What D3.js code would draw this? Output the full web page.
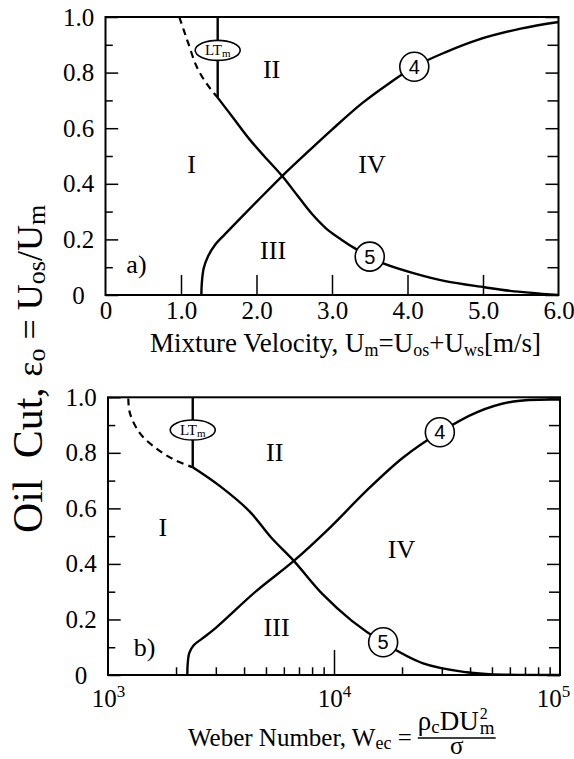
<!DOCTYPE html>
<html>
<head>
<meta charset="utf-8">
<script src="https://cdn.jsdelivr.net/npm/d3@7"></script>
<style>
  body { margin: 0; background: #fff; }
  text { font-family: "Liberation Serif", "Times New Roman", serif; fill: #000; }
</style>
</head>
<body>
<script>
// ---- panel a) : oil cut vs mixture velocity ----
var velTicks = [0, 1, 2, 3, 4, 5, 6];
var velTickLabels = ["0", "1.0", "2.0", "3.0", "4.0", "5.0", "6.0"];
var cutTicks = [0, 0.2, 0.4, 0.6, 0.8, 1.0];
var cutTickLabels = ["0", "0.2", "0.4", "0.6", "0.8", "1.0"];
var cutMinor = [0.1, 0.3, 0.5, 0.7, 0.9];

var velCurve4 = [[1.27, 0], [1.275, 0.04], [1.30, 0.095], [1.36, 0.14], [1.45, 0.18], [1.58, 0.218],
                 [1.75, 0.266], [2.00, 0.335], [2.34, 0.428], [2.70, 0.52], [3.00, 0.595], [3.40, 0.69],
                 [3.75, 0.76], [4.09, 0.821], [4.50, 0.873], [4.92, 0.917], [5.50, 0.958], [6.00, 0.982]];
var velCurve5 = [[1.486, 0.71], [1.70, 0.634], [1.914, 0.558], [2.10, 0.50], [2.34, 0.428], [2.55, 0.355],
                 [2.73, 0.293], [2.92, 0.24], [3.12, 0.20], [3.32, 0.165], [3.50, 0.138], [3.68, 0.114],
                 [4.09, 0.078], [4.50, 0.05], [5.02, 0.028], [5.36, 0.015], [6.00, 0.0]];
var velDashed = [[0.977, 1.0], [1.04, 0.95], [1.097, 0.905], [1.21, 0.82], [1.34, 0.76], [1.486, 0.71]];
var velLTm = [[1.486, 1.0], [1.486, 0.71]];
var velRegions = [["I", 1.14, 0.472], ["II", 2.2, 0.814], ["III", 2.22, 0.161], ["IV", 3.53, 0.472], ["a)", 0.41, 0.113]];
var velMarks = [["4", 4.09, 0.821], ["5", 3.5, 0.138]];
var velLTmLabel = [1.486, 0.88];

// ---- panel b) : oil cut vs Weber number ----
var weberTicks = [1e3, 1e4, 1e5];
var weberExponents = ["3", "4", "5"];
var weberMinor = [2e3, 3e3, 4e3, 5e3, 6e3, 7e3, 8e3, 9e3, 2e4, 3e4, 4e4, 5e4, 6e4, 7e4, 8e4, 9e4];

var weberCurve4 = [[2244, 0], [2250, 0.035], [2290, 0.08], [2400, 0.108], [2600, 0.13], [3000, 0.17],
                   [4540, 0.303], [6640, 0.411], [9600, 0.531], [13900, 0.663], [20300, 0.784],
                   [29400, 0.874], [42800, 0.946], [62200, 0.985], [100000, 0.992]];
var weberCurve5 = [[2371, 0.748], [3130, 0.68], [4220, 0.59], [5270, 0.495], [6640, 0.411], [8900, 0.291],
                   [12000, 0.195], [16500, 0.117], [24800, 0.042], [38600, 0.01], [49000, 0.003], [100000, 0]];
var weberDashed = [[1230, 0.996], [1251, 0.942], [1386, 0.87], [1641, 0.815], [1945, 0.777], [2371, 0.748]];
var weberLTm = [[2371, 1.0], [2371, 0.748]];
var weberRegions = [["I", 1750, 0.532], ["II", 5470, 0.802], ["III", 5570, 0.172], ["IV", 19900, 0.454], ["b)", 1452, 0.10]];
var weberMarks = [["4", 29400, 0.874], ["5", 16500, 0.118]];
var weberLTmLabel = [2371, 0.882];

var width = 574;
var height = 759;

var svg = d3.select("body").append("svg")
            .attr("width", width)
            .attr("height", height);

// draws frame, inward ticks, curves and annotations for one panel
function drawPanel(x, y, cfg) {
  var g = svg.append("g");
  var left = x.range()[0], right = x.range()[1];
  var top = y.range()[1], bottom = y.range()[0];

  // left ticks + labels
  var yl = g.append("g").attr("transform", "translate(" + left + ",0)")
    .call(d3.axisLeft(y).tickValues(cutTicks).tickSize(-12.7).tickPadding(0)
      .tickFormat(function(d, i) { return cutTickLabels[i]; }));
  yl.select(".domain").remove();
  yl.selectAll("text").attr("x", -27).attr("text-anchor", "middle")
    .style("font-family", "Liberation Serif").style("font-size", "25px");
  g.append("g").attr("transform", "translate(" + left + ",0)")
    .call(d3.axisLeft(y).tickValues(cutMinor).tickSize(-7.3).tickFormat(""))
    .select(".domain").remove();

  // right ticks
  g.append("g").attr("transform", "translate(" + right + ",0)")
    .call(d3.axisRight(y).tickValues(cutTicks).tickSize(-13).tickFormat(""))
    .select(".domain").remove();
  g.append("g").attr("transform", "translate(" + right + ",0)")
    .call(d3.axisRight(y).tickValues(cutMinor).tickSize(-11).tickFormat(""))
    .select(".domain").remove();

  cfg.bottomAxis(g, bottom);

  g.selectAll(".tick line").attr("stroke", "#000").attr("stroke-width", 1.5);

  // frame
  g.append("rect")
    .attr("x", left).attr("y", top)
    .attr("width", right - left).attr("height", bottom - top)
    .attr("fill", "none").attr("stroke", "#000").attr("stroke-width", 2);

  var line = d3.line()
    .x(function(d) { return x(d[0]); })
    .y(function(d) { return y(d[1]); })
    .curve(d3.curveCatmullRom.alpha(0.5));

  [cfg.curve4, cfg.curve5, cfg.ltm].forEach(function(c) {
    g.append("path").attr("d", line(c))
      .attr("fill", "none").attr("stroke", "#000").attr("stroke-width", 2.4);
  });
  g.append("path").attr("d", line(cfg.dashed))
    .attr("fill", "none").attr("stroke", "#000").attr("stroke-width", 2.2)
    .attr("stroke-dasharray", "7,5");

  // region names
  g.selectAll("text.region")
    .data(cfg.regions)
    .enter()
    .append("text")
    .attr("class", "region")
    .attr("x", function(d) { return x(d[1]); })
    .attr("y", function(d) { return y(d[2]); })
    .attr("dy", "0.35em")
    .attr("text-anchor", "middle")
    .style("font-size", "26px")
    .text(function(d) { return d[0]; });

  // numbered circles on the curves
  var m = g.selectAll("g.mark").data(cfg.marks).enter().append("g")
    .attr("transform", function(d) { return "translate(" + x(d[1]) + "," + y(d[2]) + ")"; });
  m.append("circle").attr("r", 14.5)
    .attr("fill", "#fff").attr("stroke", "#000").attr("stroke-width", 1.6);
  m.append("text").attr("text-anchor", "middle").attr("dy", "0.36em")
    .style("font-family", "Liberation Sans").style("font-size", "20px")
    .text(function(d) { return d[0]; });

  // LTm tag
  var t = g.append("g")
    .attr("transform", "translate(" + x(cfg.ltmLabel[0]) + "," + y(cfg.ltmLabel[1]) + ")");
  t.append("ellipse").attr("rx", 22.5).attr("ry", 10)
    .attr("fill", "#fff").attr("stroke", "#000").attr("stroke-width", 1.6);
  var tt = t.append("text").attr("text-anchor", "middle").attr("dy", "0.33em").style("font-size", "15px");
  tt.append("tspan").text("LT");
  tt.append("tspan").attr("dy", 2).style("font-size", "11px").text("m");
}

// panel a)
var xVel = d3.scaleLinear().domain([0, 6]).range([105.5, 558.5]);
var yVel = d3.scaleLinear().domain([0, 1]).range([295, 17]);

drawPanel(xVel, yVel, {
  curve4: velCurve4, curve5: velCurve5, dashed: velDashed, ltm: velLTm,
  regions: velRegions, marks: velMarks, ltmLabel: velLTmLabel,
  bottomAxis: function(g, bottom) {
    var a = g.append("g").attr("transform", "translate(0," + bottom + ")")
      .call(d3.axisBottom(xVel).tickValues(velTicks).tickSize(0).tickPadding(6)
        .tickFormat(function(d, i) { return velTickLabels[i]; }));
    a.select(".domain").remove();
    a.selectAll("text").style("font-family", "Liberation Serif").style("font-size", "25px");
    g.append("g").attr("transform", "translate(0," + bottom + ")")
      .call(d3.axisBottom(xVel).tickValues(velTicks.slice(1, 6)).tickSize(-20).tickFormat(""))
      .select(".domain").remove();
  }
});

// panel b)
var xWe = d3.scaleLog().domain([1e3, 1e5]).range([108, 560]);
var yWe = d3.scaleLinear().domain([0, 1]).range([675, 397.3]);

drawPanel(xWe, yWe, {
  curve4: weberCurve4, curve5: weberCurve5, dashed: weberDashed, ltm: weberLTm,
  regions: weberRegions, marks: weberMarks, ltmLabel: weberLTmLabel,
  bottomAxis: function(g, bottom) {
    var a = g.append("g").attr("transform", "translate(0," + bottom + ")")
      .call(d3.axisBottom(xWe).tickValues(weberTicks).tickSize(0).tickPadding(8).tickFormat(""));
    a.select(".domain").remove();
    var lab = a.selectAll(".tick").append("text")
      .attr("y", 32).attr("text-anchor", "middle").attr("fill", "#000")
      .attr("dx", function(d, i) { return i === 2 ? -7 : 0; })
      .style("font-family", "Liberation Serif").style("font-size", "25px");
    lab.append("tspan").text("10");
    lab.append("tspan").attr("dy", -10).style("font-size", "17px")
      .text(function(d, i) { return weberExponents[i]; });
    g.append("g").attr("transform", "translate(0," + bottom + ")")
      .call(d3.axisBottom(xWe).tickValues([1e4]).tickSize(-25).tickFormat(""))
      .select(".domain").remove();
    g.append("g").attr("transform", "translate(0," + bottom + ")")
      .call(d3.axisBottom(xWe).tickValues(weberMinor).tickSize(-7.7).tickFormat(""))
      .select(".domain").remove();
  }
});

// x titles
var t1 = svg.append("text").attr("x", 150).attr("y", 352).style("font-size", "27px");
t1.append("tspan").text("Mixture Velocity, U");
t1.append("tspan").attr("dy", 4).style("font-size", "18px").text("m");
t1.append("tspan").attr("dy", -4).text("=U");
t1.append("tspan").attr("dy", 4).style("font-size", "18px").text("os");
t1.append("tspan").attr("dy", -4).text("+U");
t1.append("tspan").attr("dy", 4).style("font-size", "18px").text("ws");
t1.append("tspan").attr("dy", -4).text("[m/s]");

var t2 = svg.append("text").attr("x", 188).attr("y", 746).style("font-size", "25px");
t2.append("tspan").text("Weber Number, W");
t2.append("tspan").attr("dy", 3).style("font-size", "18px").text("ec");
t2.append("tspan").attr("dy", -3).text(" =");
var fx = 188 + t2.node().getComputedTextLength() + 6;

// fraction rho_c D U_m^2 / sigma, numerator as one text with stacked sup/sub
var num = svg.append("text").attr("x", fx).attr("y", 730).style("font-size", "27px");
num.append("tspan").text("\u03c1");
num.append("tspan").attr("dy", 3).style("font-size", "19px").text("c");
num.append("tspan").attr("dy", -3).text("DU");
var nx = fx + num.node().getComputedTextLength() + 1;
num.append("tspan").attr("x", nx).attr("dy", -11).style("font-size", "16px").text("2");
num.append("tspan").attr("x", nx).attr("dy", 15).style("font-size", "19px").text("m");
var fw = nx + 16 - fx;
svg.append("line").attr("x1", fx).attr("x2", fx + fw).attr("y1", 738).attr("y2", 738)
  .attr("stroke", "#000").attr("stroke-width", 1.4);
svg.append("text").attr("x", fx + fw / 2).attr("y", 754).attr("text-anchor", "middle")
  .style("font-size", "25px").text("\u03c3");

// y title (rotated)
var yt = svg.append("text").attr("transform", "translate(42,533) rotate(-90)")
  .style("white-space", "pre");
yt.append("tspan").style("font-size", "42px").text("Oil  Cut, ");
yt.append("tspan").style("font-size", "36px").text("\u03b5");
yt.append("tspan").attr("dy", 3).style("font-size", "26px").text("o");
yt.append("tspan").attr("dy", -3).style("font-size", "36px").text(" = U");
yt.append("tspan").attr("dy", 3).style("font-size", "26px").text("os");
yt.append("tspan").attr("dy", -3).style("font-size", "36px").text("/U");
yt.append("tspan").attr("dy", 3).style("font-size", "26px").text("m");
</script>
</body>
</html>
